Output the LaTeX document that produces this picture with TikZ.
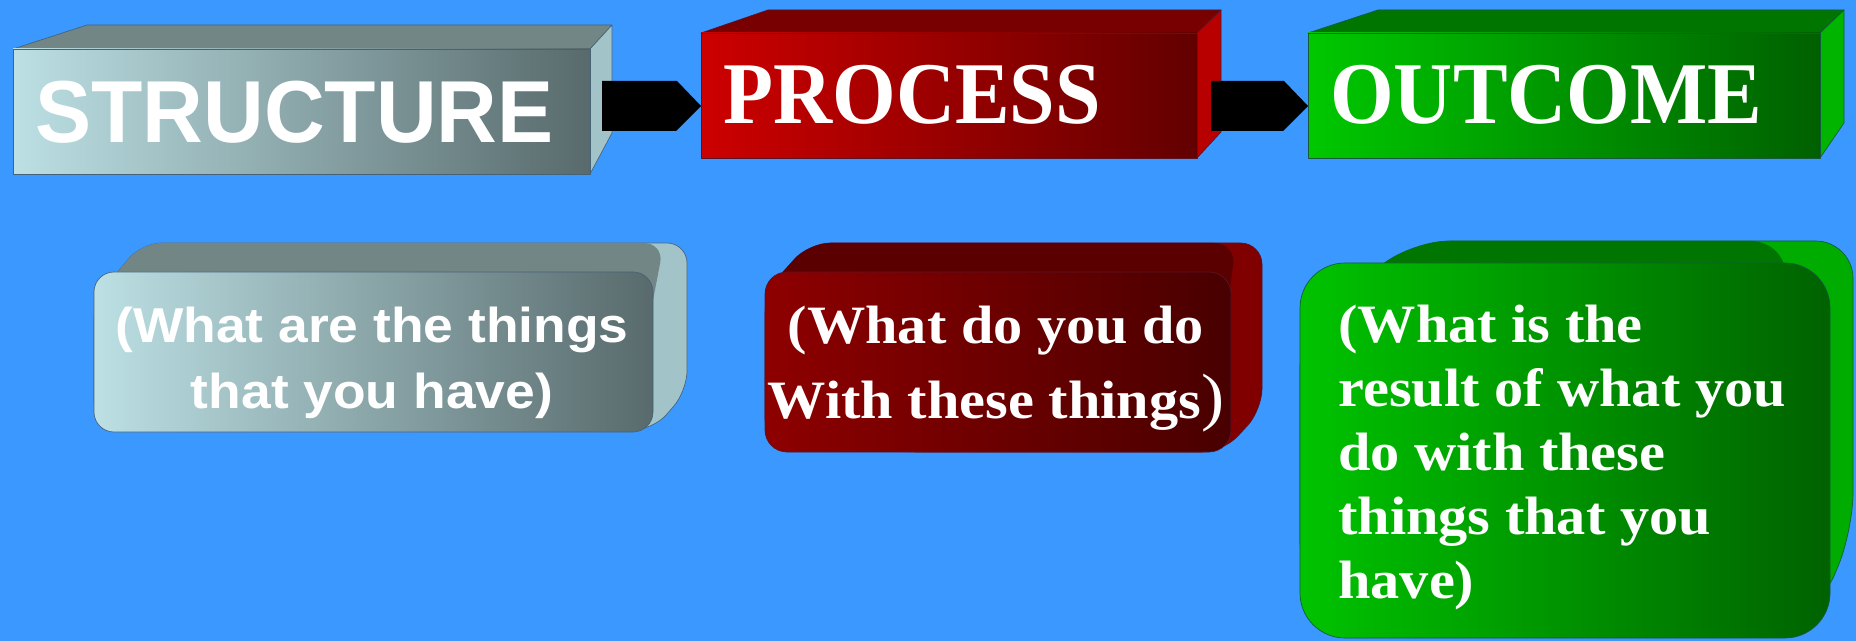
\documentclass[tikz,border=0pt]{standalone}
\usepackage{fontspec}
\setmainfont{Liberation Serif}
\newfontfamily\headsans[FakeStretch=0.955]{Liberation Sans}
\newfontfamily\headserif[FakeStretch=0.93]{Liberation Serif}
\newfontfamily\bodysans[FakeStretch=1.09]{Liberation Sans}
\newfontfamily\bodyserif[FakeStretch=1.08]{Liberation Serif}
\usetikzlibrary{calc}

% palette
\definecolor{sky}{RGB}{58,152,255}
\definecolor{stLight}{RGB}{188,224,228}
\definecolor{stDark}{RGB}{88,106,108}
\definecolor{stTop}{RGB}{114,134,134}
\definecolor{stSide}{RGB}{162,196,201}
\definecolor{stEdge}{RGB}{70,98,120}
\definecolor{prLight}{RGB}{205,0,0}
\definecolor{prDark}{RGB}{98,0,0}
\definecolor{prTop}{RGB}{120,0,0}
\definecolor{prSide}{RGB}{185,0,0}
\definecolor{prEdge}{RGB}{90,20,40}
\definecolor{prSubLight}{RGB}{142,0,0}
\definecolor{prSubDark}{RGB}{72,0,0}
\definecolor{prSubTop}{RGB}{90,0,0}
\definecolor{prSubSide}{RGB}{128,0,0}
\definecolor{ocLight}{RGB}{0,200,0}
\definecolor{ocDark}{RGB}{0,96,0}
\definecolor{ocTop}{RGB}{0,118,0}
\definecolor{ocSide}{RGB}{0,180,0}
\definecolor{ocEdge}{RGB}{20,90,60}
\definecolor{ocSubLight}{RGB}{0,195,0}
\definecolor{ocSubDark}{RGB}{0,98,0}
\definecolor{ocSubTop}{RGB}{0,118,0}
\definecolor{ocSubSide}{RGB}{0,172,0}

\begin{document}
\begin{tikzpicture}[x=0.75pt,y=-0.75pt,
  face/.style={line width=0.5pt, line join=round},
  frontface/.style={face, inner sep=0pt, outer sep=0pt},
  headlabel/.style={text=white, inner sep=0pt, anchor=base west},
  bodylabel/.style={text=white, inner sep=0pt},
  flowarrow/.style={fill=black}]

% canvas
\fill[sky] (0,0) rectangle (1856,641);
\useasboundingbox (0,0) rectangle (1856,641);

% ---------- top row: extruded boxes ----------
% STRUCTURE
\filldraw[face, fill=stTop, draw=stEdge] (13,49) -- (87,25) -- (612,25) -- (590,49) -- cycle;
\filldraw[face, fill=stSide, draw=stEdge] (590,49) -- (612,25) -- (612,133) -- (590,174) -- cycle;
\node[frontface, draw=stEdge, left color=stLight, right color=stDark,
      minimum width=577*0.75pt, minimum height=125*0.75pt] (S) at (301.5,111.5) {};
\node[headlabel, font=\headsans\bfseries\fontsize{66}{66}\selectfont] (Slabel) at (35,143) {STRUCTURE};

% PROCESS
\filldraw[face, fill=prTop, draw=prEdge] (701,33) -- (768,10) -- (1221,10) -- (1197,33) -- cycle;
\filldraw[face, fill=prSide, draw=prEdge] (1197,33) -- (1221,10) -- (1221,132) -- (1197,158) -- cycle;
\node[frontface, draw=prEdge, left color=prLight, right color=prDark,
      minimum width=496*0.75pt, minimum height=125*0.75pt] (P) at (949,95.5) {};
\node[headlabel, font=\headserif\bfseries\fontsize{66}{66}\selectfont] (Plabel) at (723,124) {PROCESS};

% OUTCOME
\filldraw[face, fill=ocTop, draw=ocEdge] (1308,33) -- (1378,10) -- (1844,10) -- (1820,33) -- cycle;
\filldraw[face, fill=ocSide, draw=ocEdge] (1820,33) -- (1844,10) -- (1844,123) -- (1820,158) -- cycle;
\node[frontface, draw=ocEdge, left color=ocLight, right color=ocDark,
      minimum width=512*0.75pt, minimum height=125*0.75pt] (O) at (1564,95.5) {};
\node[headlabel, font=\headserif\bfseries\fontsize{66}{66}\selectfont] (Olabel) at (1330,124) {OUTCOME};

% connectors
\coordinate (a1) at (602,106);
\fill[flowarrow] (a1) ++(0,-25) -- ++(75,0) -- (P.west |- a1) -- ++(-25,25) -- ($(a1)+(0,25)$) -- cycle;
\coordinate (a2) at (1211,106);
\fill[flowarrow] (a2) ++(0,-25) -- ++(73,0) -- (O.west |- a2) -- ++(-25,25) -- ($(a2)+(0,25)$) -- cycle;

% ---------- bottom row: rounded slabs ----------
% structure note
\filldraw[face, fill=stSide, draw=stEdge, rounded corners=15pt]
  (94,420) -- (94,300) -- (142,243) -- (687,243) -- (687,391) -- (653,430) -- (400,430) -- cycle;
\fill[stTop, rounded corners=15pt]
  (94,420) -- (94,300) -- (142,243) -- (664,243) -- (630,420) -- cycle;
\node[frontface, draw=stEdge, rounded corners=15pt, left color=stLight, right color=stDark,
      minimum width=559*0.75pt, minimum height=160*0.75pt] (Sn) at (373.5,352) {};
\node[bodylabel, anchor=base, align=center,
      font=\bodysans\bfseries\fontsize{36.75}{48.75}\selectfont] (Sntext) at (372,408)
  {(What are the things\\that you have)};

% process note
\filldraw[face, fill=prSubSide, draw=prEdge, rounded corners=16pt]
  (765,440) -- (765,292) -- (809,243) -- (1262,243) -- (1262,410) -- (1223,452) -- (900,452) -- cycle;
\fill[prSubTop, rounded corners=16pt]
  (765,440) -- (765,292) -- (809,243) -- (1236,243) -- (1210,440) -- cycle;
\node[frontface, draw=prEdge, rounded corners=16.5pt, left color=prSubLight, right color=prSubDark,
      minimum width=466*0.75pt, minimum height=180*0.75pt] (Pn) at (998,362) {};
\node[bodylabel, anchor=base, align=center,
      font=\bodyserif\bfseries\fontsize{40.5}{55.5}\selectfont] (Pntext) at (996,418)
  {(What do you do\\With these things{\mdseries\fontsize{48}{48}\selectfont )}};

% outcome note
\filldraw[face, fill=ocSubSide, draw=ocEdge, rounded corners=28pt]
  (1300,580) -- (1300,330) -- (1412,241) -- (1853,241) -- (1853,530) -- (1820,610) -- (1500,610) -- cycle;
\fill[ocSubTop, rounded corners=28pt]
  (1300,580) -- (1300,330) -- (1412,241) -- (1788,241) -- (1770,580) -- cycle;
\node[frontface, draw=ocEdge, rounded corners=33.75pt, left color=ocSubLight, right color=ocSubDark,
      minimum width=530*0.75pt, minimum height=375*0.75pt] (On) at (1565,450.5) {};
\node[bodylabel, anchor=base west, align=left,
      font=\bodyserif\bfseries\fontsize{40.5}{48}\selectfont] (Ontext) at (1338,598)
  {(What is the\\result of what you\\do with these\\things that you\\have)};

\end{tikzpicture}
\end{document}
